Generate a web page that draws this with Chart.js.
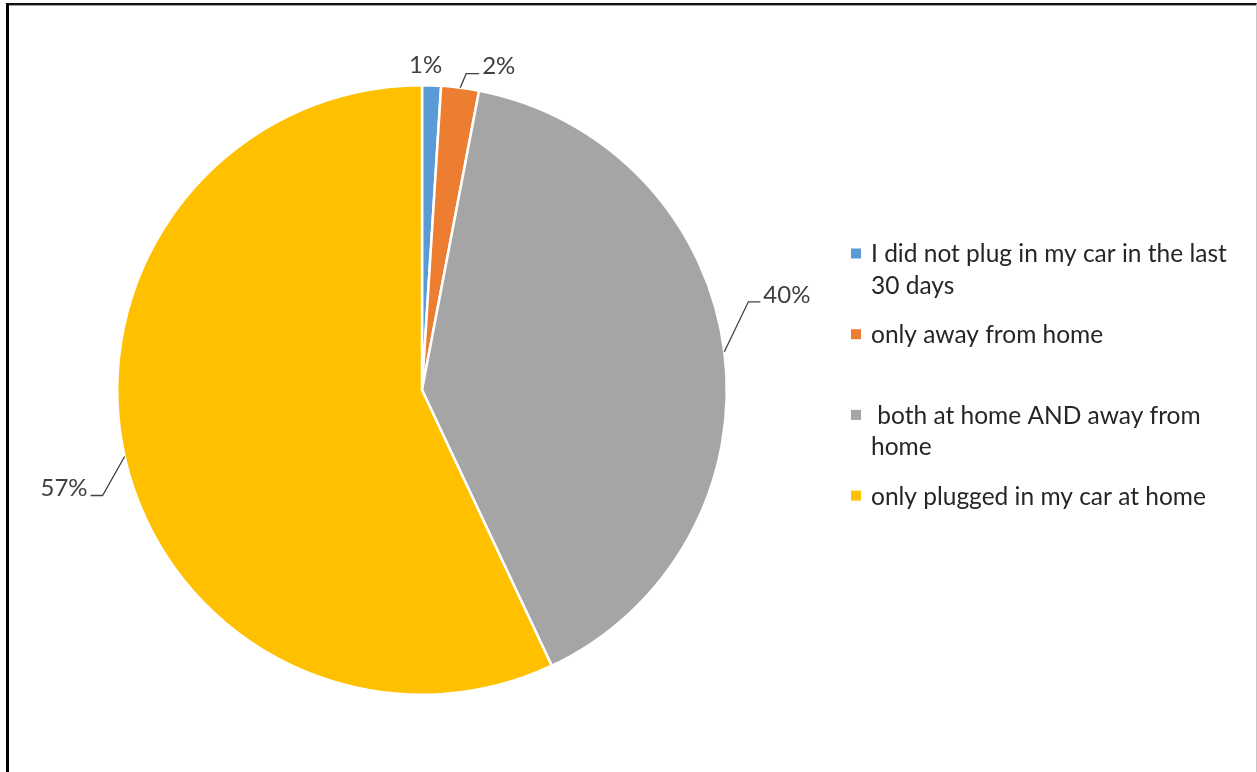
<!DOCTYPE html>
<html>
<head>
<meta charset="utf-8">
<title>Where EV owners plugged in</title>
<script src="https://cdn.jsdelivr.net/npm/chart.js@4.4.0/dist/chart.umd.min.js"></script>
<style>
  html, body { margin: 0; padding: 0; background: #fff; }
  #wrap { position: relative; width: 1257px; height: 772px; overflow: hidden; }
  #frame {
    position: absolute; left: 6px; top: 3px; width: 1247px; height: 800px;
    border-left: 3px solid #000; border-top: 2px solid #111; border-right: 1px solid #c8c8c8;
    box-shadow: inset 0 1px 0 #a0a0a0;
  }
  #chart { position: absolute; left: 0; top: 0; }
</style>
</head>
<body>
<div id="wrap">
  <div id="frame"></div>
  <canvas id="chart" width="1257" height="772"></canvas>
</div>
<script>
var categories = [
    ['I did not plug in my car in the last', '30 days'],
    ['only away from home'],
    [' both at home AND away from', 'home'],
    ['only plugged in my car at home']
];
var shares = [1, 2, 40, 57];
var sliceColors = ['#5B9BD5', '#ED7D31', '#A5A5A5', '#FFC000'];

// where each percentage sits: elbow offset from the rim, then a short horizontal run
var leaders = [
    {dx: -6, dy: -20, run: 0, line: false},
    {dx: 6, dy: -14, run: 13, line: true},
    {dx: 24, dy: -50, run: 12, line: true},
    {dx: -22, dy: 39, run: -12, line: true}
];

var FONT = 'Lato, "Liberation Sans", sans-serif';

var pieLabels = {
    id: 'pieLabels',
    afterDatasetsDraw: function (chart) {
        var ctx = chart.ctx;
        var meta = chart.getDatasetMeta(0);
        ctx.save();
        ctx.font = '24px ' + FONT;
        ctx.fillStyle = '#404040';
        ctx.strokeStyle = '#404040';
        ctx.lineWidth = 1.3;
        meta.data.forEach(function (arc, i) {
            var p = arc.getProps(['x', 'y', 'startAngle', 'endAngle', 'outerRadius'], true);
            var mid = (p.startAngle + p.endAngle) / 2;
            var ax = p.x + Math.cos(mid) * p.outerRadius;
            var ay = p.y + Math.sin(mid) * p.outerRadius;
            var l = leaders[i];
            var ex = ax + l.dx, ey = ay + l.dy;
            var text = shares[i] + '%';
            if (!l.line) {
                ctx.textAlign = 'center';
                ctx.textBaseline = 'middle';
                ctx.fillText(text, ex, ey);
                return;
            }
            ctx.beginPath();
            ctx.moveTo(ax, ay);
            ctx.lineTo(ex, ey);
            ctx.lineTo(ex + l.run, ey);
            ctx.stroke();
            ctx.textBaseline = 'middle';
            if (l.run > 0) {
                ctx.textAlign = 'left';
                ctx.fillText(text, ex + l.run + 3, ey - 7);
            } else {
                ctx.textAlign = 'right';
                ctx.fillText(text, ex + l.run - 3, ey - 7);
            }
        });
        ctx.restore();
    }
};

// legend on the right, one row per slice, wrapped lines kept together
var sideLegend = {
    id: 'sideLegend',
    afterDraw: function (chart) {
        var ctx = chart.ctx;
        var opts = chart.options.plugins.sideLegend;
        var colors = chart.data.datasets[0].backgroundColor;
        ctx.save();
        ctx.font = opts.fontSize + 'px ' + FONT;
        ctx.textAlign = 'left';
        ctx.textBaseline = 'middle';
        chart.data.labels.forEach(function (lines, i) {
            var y = opts.top + i * opts.step;
            ctx.fillStyle = colors[i];
            ctx.fillRect(opts.left, y - opts.box / 2, opts.box, opts.box);
            ctx.fillStyle = '#262626';
            lines.forEach(function (line, j) {
                ctx.fillText(line, opts.left + 20, y + 1 + j * opts.lineHeight);
            });
        });
        ctx.restore();
    }
};

new Chart(document.getElementById('chart'), {
    type: 'pie',
    data: {
        labels: categories,
        datasets: [{
            data: shares,
            backgroundColor: sliceColors,
            borderColor: '#ffffff',
            borderWidth: 2.5
        }]
    },
    options: {
        responsive: false,
        animation: false,
        layout: {
            padding: {left: 116, top: 84, right: 529, bottom: 76}
        },
        plugins: {
            legend: {display: false},
            tooltip: {enabled: false},
            sideLegend: {left: 851, top: 253.5, step: 80.7, box: 10, lineHeight: 31.5, fontSize: 24.5}
        }
    },
    plugins: [pieLabels, sideLegend]
});
</script>
</body>
</html>
